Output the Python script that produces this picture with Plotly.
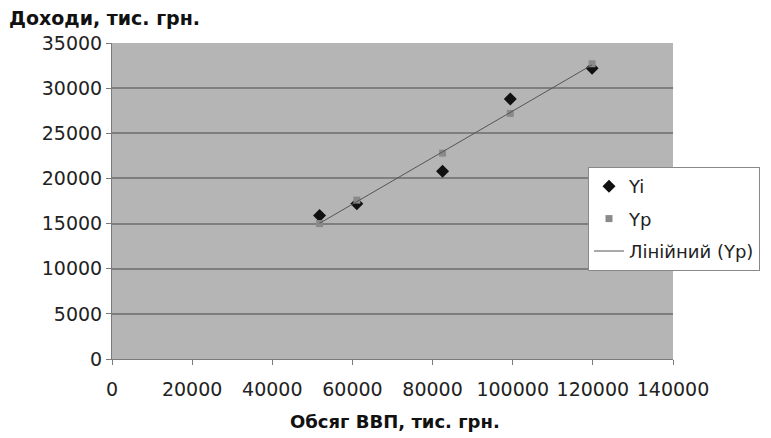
import numpy as np
import plotly.graph_objects as go

# GDP volume (thousand UAH) and revenues: observed (Yi) and estimated (Yp)
gdp = [51800, 61100, 82500, 99400, 119800]
y_observed = [15900, 17200, 20800, 28800, 32200]
y_estimated = [15000, 17600, 22800, 27200, 32700]

x_ticks = [0, 20000, 40000, 60000, 80000, 100000, 120000, 140000]
y_ticks = [0, 5000, 10000, 15000, 20000, 25000, 30000, 35000]

# Linear trend fitted to the estimated series, drawn over the data range
slope, intercept = np.polyfit(gdp, y_estimated, 1)
trend_x = [min(gdp), max(gdp)]
trend_y = [slope * v + intercept for v in trend_x]

FONT = "DejaVu Sans, sans-serif"

fig = go.Figure()
fig.add_trace(go.Scatter(
    x=gdp, y=y_observed, mode="markers", name="Yi", legendgroup="a",
    marker=dict(symbol="diamond", size=10, color="#111111"),
))
fig.add_trace(go.Scatter(
    x=gdp, y=y_estimated, mode="markers", name="Yp", legendgroup="b",
    marker=dict(symbol="square", size=7, color="#8a8a8a"),
))
fig.add_trace(go.Scatter(
    x=trend_x, y=trend_y, mode="lines", name="Лінійний (Yp)", legendgroup="c",
    line=dict(color="#555555", width=1),
))

fig.update_layout(
    width=771, height=438,
    margin=dict(l=112, r=97, t=43, b=79),
    paper_bgcolor="white",
    plot_bgcolor="#b5b5b5",
    font=dict(family=FONT, size=19, color="#222222"),
    showlegend=True,
    legend=dict(
        x=(588 - 112) / 562, y=(359 - 167) / 316,
        xanchor="left", yanchor="top",
        bgcolor="white", bordercolor="#888888", borderwidth=1,
        font=dict(family=FONT, size=18, color="#222222"),
        traceorder="grouped", tracegroupgap=6, itemwidth=30,
    ),
    annotations=[
        dict(text="<b>Доходи, тис. грн.</b>", xref="paper", yref="paper",
             x=-(112 - 7) / 562, y=1 + (43 - 18) / 316,
             xanchor="left", yanchor="middle",
             showarrow=False, font=dict(family=FONT, size=19, color="#111111")),
        dict(text="<b>Обсяг ВВП, тис. грн.</b>", xref="paper", yref="paper",
             x=(396 - 112) / 562, y=-(421 - 359) / 316, xanchor="center",
             yanchor="middle", showarrow=False,
             font=dict(family=FONT, size=18, color="#111111")),
    ],
)

fig.update_xaxes(
    range=[0, 140000], tickvals=x_ticks, ticktext=[str(v) for v in x_ticks],
    showgrid=False, zeroline=False,
    showline=True, linecolor="#7a7a7a", linewidth=1,
    ticks="outside", ticklen=5, tickcolor="#7a7a7a",
    ticklabelstandoff=8,
)
fig.update_yaxes(
    range=[0, 35000], tickvals=y_ticks, ticktext=[str(v) for v in y_ticks],
    showgrid=True, gridcolor="#7e7e7e", gridwidth=2, zeroline=False,
    showline=True, linecolor="#7a7a7a", linewidth=1,
    ticks="outside", ticklen=5, tickcolor="#7a7a7a",
)

fig.write_html("out.html")
